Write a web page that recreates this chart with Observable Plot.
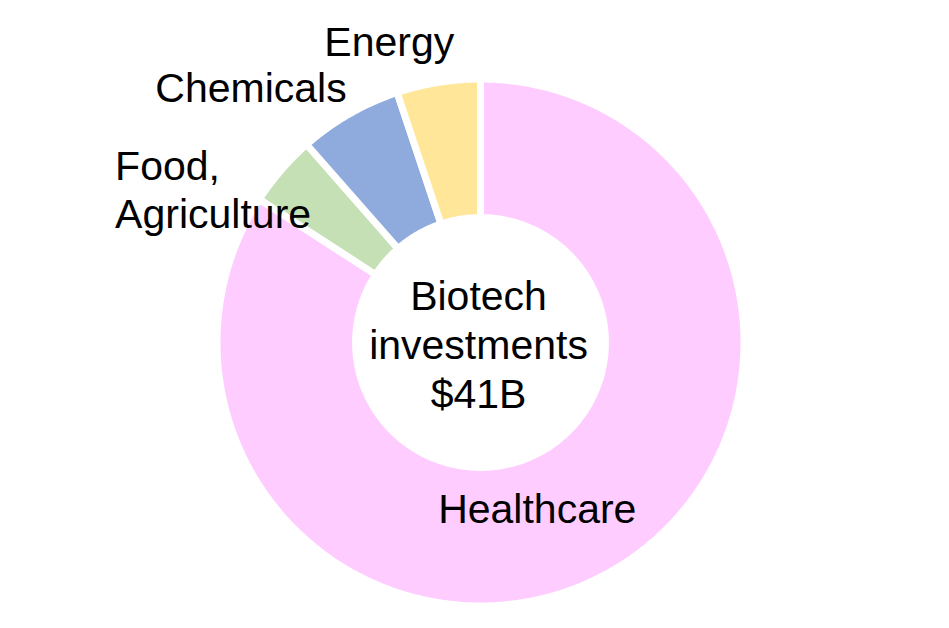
<!DOCTYPE html>
<html>
<head>
<meta charset="utf-8">
<script src="https://cdn.jsdelivr.net/npm/d3@7"></script>
<script src="https://cdn.jsdelivr.net/npm/@observablehq/plot@0.6"></script>
<style>
  html, body { margin: 0; padding: 0; background: #fff; }
  #chart svg { display: block; }
</style>
</head>
<body>
<div id="chart"></div>
<script>
// ---- data (billions of USD) ----
const categories = ["Healthcare", "Food, Agriculture", "Chemicals", "Energy"];
const labels = ["Healthcare", "Food,\nAgriculture", "Chemicals", "Energy"];
const values = [34.5, 1.8, 2.6, 2.1];
const colors = ["#FFCCFF", "#C5E0B4", "#8FAADC", "#FFE699"];
const centerLines = ["Biotech", "investments", "$41B"];

// ---- geometry ----
const W = 949, H = 628;
const cx = 480, cy = 342, R = 263.5;   // centre and outer radius in px
const innerRatio = 0.474;

const rows = categories.map((name, i) => ({name, label: labels[i], value: values[i]}));
const arcs = d3.pie().sort(null).value(d => d.value)(rows);

const step = Math.PI / 360;
const points = arcs.flatMap(a => {
  const n = Math.max(2, Math.ceil((a.endAngle - a.startAngle) / step));
  const ts = d3.range(n + 1).map(k => a.startAngle + (a.endAngle - a.startAngle) * k / n);
  const outer = ts.map(t => ({name: a.data.name, x: Math.sin(t), y: Math.cos(t)}));
  const inner = ts.slice().reverse().map(t => ({name: a.data.name, x: innerRatio * Math.sin(t), y: innerRatio * Math.cos(t)}));
  return [...outer, ...inner];
});

// label anchors: mid-angle of each slice
function anchor(name, r) {
  const a = arcs.find(d => d.data.name === name);
  const t = (a.startAngle + a.endAngle) / 2;
  return {x: r * Math.sin(t), y: r * Math.cos(t), label: a.data.label};
}

const font = "'Liberation Sans', Arial, sans-serif";
const fs = 41;

const chart = Plot.plot({
  width: W,
  height: H,
  margin: 0,
  style: {fontFamily: font, background: "#fff"},
  x: {domain: [-cx / R, (W - cx) / R], axis: null},
  y: {domain: [-(H - cy) / R, cy / R], axis: null},
  color: {domain: categories, range: colors},
  marks: [
    Plot.line(points, {
      x: "x", y: "y", z: "name", fill: "name",
      stroke: "white", strokeWidth: 7, curve: "linear-closed"
    }),
    Plot.text([anchor("Energy", 1)], {
      x: "x", y: "y", text: "label", fontSize: fs, fill: "#000",
      textAnchor: "start", lineAnchor: "middle", dx: -114, dy: -40
    }),
    Plot.text([anchor("Chemicals", 1)], {
      x: "x", y: "y", text: "label", fontSize: fs, fill: "#000",
      textAnchor: "start", lineAnchor: "middle", dx: -194, dy: -25
    }),
    Plot.text([anchor("Food, Agriculture", 1)], {
      x: "x", y: "y", text: "label", fontSize: fs, fill: "#000",
      textAnchor: "start", lineAnchor: "middle", lineHeight: 1.18, dx: -166, dy: 18
    }),
    Plot.text([anchor("Healthcare", (1 + innerRatio) / 2)], {
      x: "x", y: "y", text: "label", fontSize: fs, fill: "#000",
      textAnchor: "middle", lineAnchor: "middle", dx: -36, dy: -3
    }),
    Plot.text([{x: 0, y: 0, label: centerLines.join("\n")}], {
      x: "x", y: "y", text: "label", fontSize: fs, fill: "#000",
      textAnchor: "middle", lineAnchor: "middle", lineHeight: 1.2, dx: -2, dy: 1
    })
  ]
});

document.getElementById("chart").appendChild(chart);
</script>
</body>
</html>
